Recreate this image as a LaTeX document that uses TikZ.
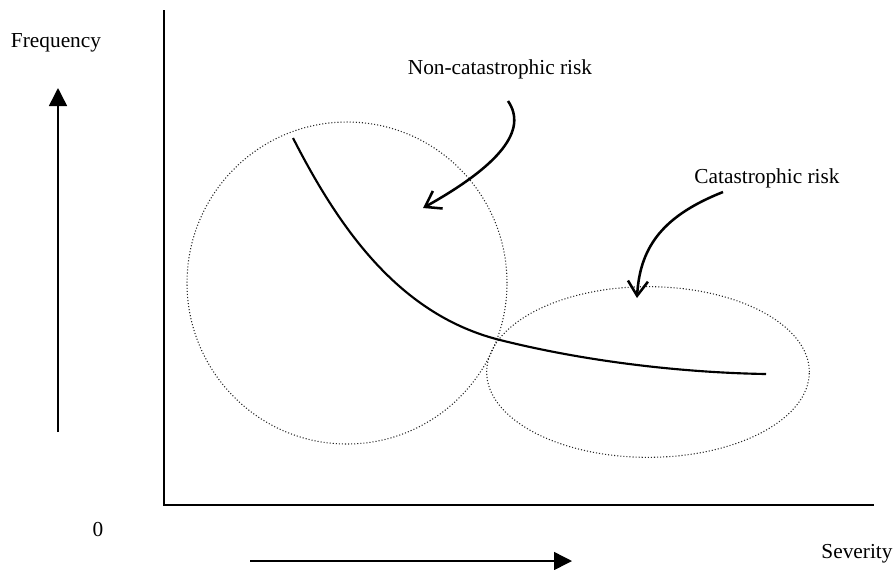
\documentclass[tikz,border=0pt]{standalone}
\usepackage{fontspec}
\setmainfont{Liberation Serif}
\usetikzlibrary{arrows.meta,shapes.geometric}
\definecolor{zGray}{gray}{0.15}
\tikzset{
    lbl/.style={font=\fontsize{16}{19}\selectfont, inner sep=0pt, anchor=base},
    zone/.style={ellipse, draw=zGray, line width=0.8pt, dash pattern=on 0.8pt off 1.5pt, inner sep=0pt},
    axis/.style={line width=1.5pt},
    dirarrow/.style={line width=1.1pt, -{Triangle[length=13.5pt,width=13.5pt]}},
    pointer/.style={line width=1.9pt, -{Straight Barb[length=11pt,width=15pt]}}
}

\begin{document}
\begin{tikzpicture}[x=0.75pt,y=-0.75pt]
\useasboundingbox (0,0) rectangle (896,569);
% axes
\coordinate (ytop) at (164,10);
\coordinate (orig) at (164,505);
\coordinate (xend) at (874,505);
\draw[axis] (ytop) -- (orig) -- (xend);
% direction arrows
\coordinate (fLow) at (58,432);
\coordinate (fHigh) at (58,88);
\coordinate (sLow) at (250,561);
\coordinate (sHigh) at (572,561);
\draw[dirarrow] (fLow) -- (fHigh);
\draw[dirarrow] (sLow) -- (sHigh);
% labels
\node[lbl] (freq) at (56,47) {Frequency};
\node[lbl] (zero) at (98,536) {0};
\node[lbl] (sev) at (857,558) {Severity};
\node[lbl] (noncat) at (500,74) {Non-catastrophic risk};
\node[lbl] (cat) at (767,183) {Catastrophic risk};
% risk zones
\node[zone, minimum width=240pt, minimum height=241.5pt] (noncatzone) at (347,283) {};
\node[zone, minimum width=242pt, minimum height=128pt] (catzone) at (648,372) {};
% loss curve
\coordinate (cStart) at (293,138);
\coordinate (cMid) at (500,340);
\coordinate (cEnd) at (766,374);
\draw[line width=1.6pt] (cStart) .. controls (340,230) and (400,315) .. (cMid)
    .. controls (600,365) and (700,373) .. (cEnd);
% pointers
\coordinate (p1) at (508,101);
\coordinate (p1tip) at (423,208);
\coordinate (p2) at (723,192);
\coordinate (p2tip) at (637,298);
\draw[pointer] (p1) .. controls (528,130) and (500,165) .. (p1tip);
\draw[pointer] (p2) .. controls (665,215) and (640,245) .. (p2tip);
\end{tikzpicture}
\end{document}
